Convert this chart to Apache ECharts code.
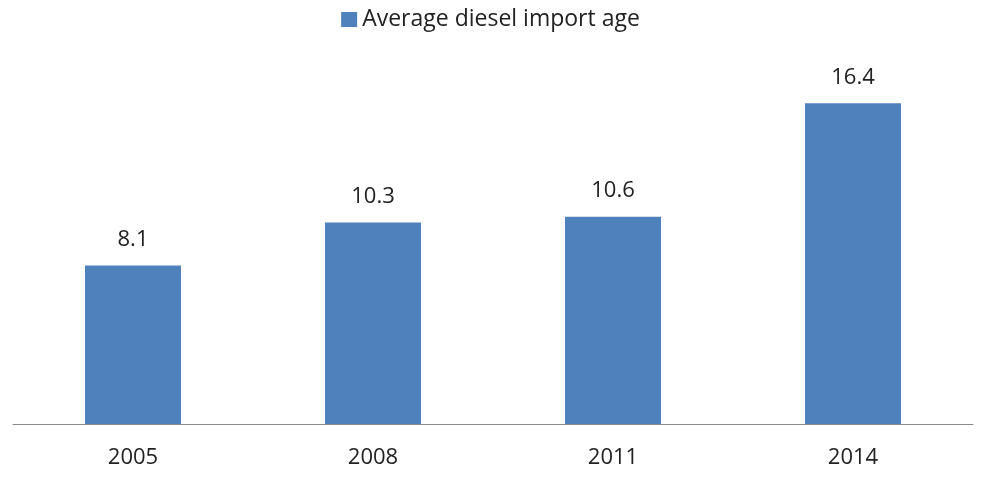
<!DOCTYPE html>
<html>
<head>
<meta charset="utf-8">
<script src="https://cdn.jsdelivr.net/npm/echarts@6/dist/echarts.min.js"></script>
<style>
  html, body { margin: 0; padding: 0; background: #fff; }
  #chart { width: 981px; height: 487px; }
</style>
</head>
<body>
<div id="chart"></div>
<script>
// Average age of imported diesel vehicles, by year
const years = ['2005', '2008', '2011', '2014'];
const avgAge = [8.1, 10.3, 10.6, 16.4];
const seriesName = 'Average diesel import age';

const chart = echarts.init(document.getElementById('chart'));
const font = '"Open Sans", Lato, sans-serif';

chart.setOption({
  animation: false,
  legend: {
    top: 3,
    left: 'center',
    itemWidth: 16,
    itemHeight: 15,
    itemGap: 6,
    icon: 'rect',
    textStyle: { fontFamily: font, fontSize: 23, color: '#222' },
    data: [seriesName]
  },
  grid: { left: 13, right: 8, top: 72, bottom: 63 },
  xAxis: {
    type: 'category',
    data: years,
    axisLine: { lineStyle: { color: '#8c8c8c', width: 1 } },
    axisTick: { show: false },
    axisLabel: { margin: 23, fontFamily: font, fontSize: 22, color: '#222' }
  },
  yAxis: {
    type: 'value',
    min: 0,
    max: 18,
    show: false,
    splitLine: { show: false }
  },
  series: [{
    name: seriesName,
    type: 'bar',
    data: avgAge,
    barWidth: '40%',
    itemStyle: { color: '#4f81bd' },
    label: {
      show: true,
      position: 'top',
      distance: 15,
      fontFamily: font,
      fontSize: 22,
      color: '#222'
    }
  }]
});
</script>
</body>
</html>
